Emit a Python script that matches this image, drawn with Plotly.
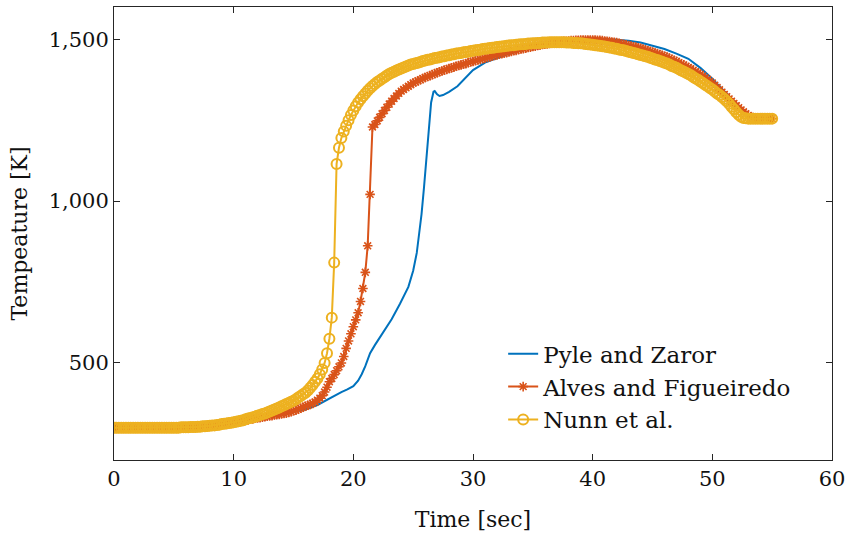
import numpy as np
import plotly.graph_objects as go

# sampling grid of the two marker series (0.2 s step, 0..55 s)
time_grid = np.round(np.arange(0, 55.0001, 0.2), 1)

nunn_T = [
    300, 300, 300, 300, 300, 300, 300, 300, 300, 300,
    300, 300, 300, 300, 300, 300, 300, 300, 300, 300,
    300, 300, 300, 300, 300,
    300, 300, 300, 301, 301,
    301, 301, 302, 302, 302,
    303, 303, 304, 304, 305,
    306, 307, 307, 308, 309,
    311, 312, 313, 314, 315,
    317, 318, 320, 321, 323,
    326, 328, 330, 332, 334,
    337, 339, 342, 344, 347,
    350, 353, 356, 359, 362,
    366, 369, 373, 376, 380,
    383, 388, 393, 398, 403,
    408, 415, 423, 432, 442,
    452, 465, 480, 500, 530,
    575, 640, 810, 1115, 1165,
    1195, 1215, 1233, 1250, 1266,
    1280, 1293, 1305, 1315, 1324,
    1333, 1341, 1349, 1356, 1362,
    1368, 1373, 1378, 1383, 1388,
    1393, 1397, 1400, 1404, 1407,
    1410, 1413, 1416, 1419, 1422,
    1424, 1426, 1428, 1430, 1433,
    1435, 1437, 1438, 1440, 1442,
    1443, 1445, 1447, 1448, 1450,
    1451, 1453, 1454, 1456, 1457,
    1458, 1460, 1461, 1462, 1464,
    1465, 1466, 1467, 1468, 1470,
    1471, 1472, 1473, 1474, 1475,
    1476, 1477, 1478, 1479, 1480,
    1481, 1482, 1482, 1483, 1484,
    1485, 1485, 1486, 1487, 1487,
    1488, 1488, 1489, 1489, 1490,
    1490, 1490, 1491, 1491, 1491,
    1491, 1491, 1491, 1491, 1490,
    1490, 1490, 1489, 1489, 1488,
    1488, 1487, 1486, 1485, 1484,
    1483, 1482, 1481, 1480, 1479,
    1478, 1476, 1475, 1474, 1472,
    1471, 1469, 1467, 1466, 1464,
    1462, 1460, 1458, 1456, 1454,
    1452, 1450, 1448, 1446, 1443,
    1441, 1438, 1436, 1433, 1431,
    1428, 1425, 1422, 1418, 1415,
    1412, 1408, 1404, 1401, 1397,
    1393, 1389, 1384, 1379, 1375,
    1370, 1365, 1360, 1355, 1350,
    1345, 1339, 1333, 1328, 1322,
    1316, 1309, 1301, 1292, 1284,
    1275, 1267, 1261, 1257, 1256,
    1255, 1255, 1255, 1255, 1255,
    1255, 1255, 1255, 1255, 1255,
    1255,
]

alves_T = [
    300, 300, 300, 300, 300, 300, 300, 300, 300, 300,
    300, 300, 300, 300, 300, 300, 300, 300, 300, 300,
    300, 300, 300, 300, 300,
    300, 300, 300, 301, 301,
    301, 301, 302, 302, 302,
    303, 303, 304, 304, 305,
    306, 307, 307, 308, 309,
    310, 311, 312, 313, 314,
    316, 317, 319, 320, 322,
    323, 324, 326, 327, 329,
    330, 331, 332, 334, 335,
    336, 337, 339, 340, 341,
    342, 344, 345, 347, 349,
    352, 354, 357, 360, 363,
    366, 369, 372, 375, 379,
    385, 391, 399, 410, 425,
    442, 452, 464, 476, 488,
    500, 520, 545, 568, 590,
    612, 633, 655, 690, 730,
    780, 862, 1021, 1229, 1237,
    1248, 1259, 1270, 1280, 1290,
    1300, 1309, 1317, 1325, 1333,
    1340, 1345, 1350, 1355, 1360,
    1365, 1368, 1372, 1375, 1379,
    1382, 1385, 1388, 1391, 1394,
    1397, 1400, 1402, 1405, 1407,
    1410, 1412, 1414, 1417, 1419,
    1421, 1423, 1425, 1428, 1430,
    1432, 1434, 1436, 1438, 1440,
    1442, 1444, 1446, 1448, 1450,
    1452, 1454, 1456, 1457, 1459,
    1461, 1463, 1465, 1466, 1468,
    1470, 1471, 1473, 1475, 1476,
    1478, 1479, 1481, 1482, 1484,
    1485, 1486, 1487, 1489, 1490,
    1491, 1492, 1493, 1494, 1494,
    1495, 1496, 1496, 1497, 1497,
    1498, 1498, 1498, 1498, 1498,
    1498, 1498, 1497, 1497, 1496,
    1495, 1494, 1493, 1492, 1491,
    1490, 1488, 1486, 1485, 1483,
    1481, 1479, 1477, 1476, 1474,
    1472, 1470, 1468, 1465, 1463,
    1461, 1458, 1456, 1453, 1451,
    1448, 1445, 1442, 1438, 1435,
    1432, 1428, 1424, 1421, 1417,
    1413, 1409, 1405, 1400, 1396,
    1392, 1387, 1381, 1376, 1370,
    1365, 1358, 1351, 1344, 1337,
    1330, 1323, 1316, 1309, 1302,
    1295, 1289, 1282, 1276, 1270,
    1265, 1261, 1258, 1256, 1255,
    1255, 1255, 1255, 1255, 1255,
    1255,
]

pyle_t = [0, 2, 4, 5, 6, 7, 8, 9, 10, 11, 12, 13, 14, 15, 16, 17, 18, 18.5, 19,
          19.5, 20, 20.4, 20.7, 21, 21.4, 21.8, 22.5, 23.2, 23.9, 24.6, 25.0,
          25.3, 25.5, 25.7, 25.9, 26.1, 26.3, 26.5, 26.7, 26.8, 27.0, 27.2,
          27.5, 28, 28.7, 29.5, 30, 31, 32, 33, 34, 35, 36, 37, 38, 39, 40,
          41, 42, 43, 44, 45, 46, 47, 48, 49, 50, 51, 52, 53, 53.5, 54, 55]
pyle_T = [300, 300, 300, 300, 301, 303, 306, 310, 316, 323, 330, 335, 341, 348,
          356, 370, 390, 401, 410, 418, 428, 445, 465, 490, 530, 555, 595,
          635, 683, 735, 785, 840, 900, 960, 1040, 1125, 1225, 1305, 1338,
          1340, 1330, 1325, 1328, 1338, 1355, 1385, 1405, 1428, 1442, 1455,
          1466, 1476, 1484, 1490, 1495, 1498, 1500, 1501, 1499, 1496, 1490,
          1481, 1470, 1456, 1440, 1412, 1378, 1340, 1300, 1266, 1256, 1255,
          1255]

series_names = ["Pyle and Zaror", "Alves and Figueiredo", "Nunn et al."]
x_ticks = [0, 10, 20, 30, 40, 50, 60]
y_ticks = [500, 1000, 1500]

BLUE = "#0072BD"
RED = "#D95319"
YELLOW = "#EDB120"
FONT = "DejaVu Serif"
TXT = "#111111"

fig = go.Figure()
fig.add_trace(go.Scatter(x=pyle_t, y=pyle_T, mode="lines", name=series_names[0],
                         line=dict(color=BLUE, width=2)))
fig.add_trace(go.Scatter(x=time_grid, y=alves_T, mode="lines+markers", name=series_names[1],
                         line=dict(color=RED, width=2),
                         marker=dict(symbol="asterisk-open", size=8, color=RED,
                                     line=dict(color=RED, width=1.6))))
fig.add_trace(go.Scatter(x=time_grid, y=nunn_T, mode="lines+markers", name=series_names[2],
                         line=dict(color=YELLOW, width=2),
                         marker=dict(symbol="circle-open", size=10, color=YELLOW,
                                     line=dict(color=YELLOW, width=2))))

axis_common = dict(showgrid=False, zeroline=False, showline=True, linecolor="#262626",
                   linewidth=1, mirror="ticks", ticks="inside", ticklen=6,
                   tickcolor="#262626", tickwidth=1,
                   tickfont=dict(family=FONT, size=21, color=TXT))

fig.update_xaxes(range=[0, 60], tickvals=x_ticks, **axis_common,
                 title=dict(text="Time [sec]", font=dict(family=FONT, size=22, color=TXT),
                            standoff=21))
fig.update_yaxes(range=[200, 1600], tickvals=y_ticks, tickformat=",d", **axis_common,
                 title=dict(text="Tempeature [K]", font=dict(family=FONT, size=22, color=TXT),
                            standoff=14))

fig.update_layout(
    width=851, height=537,
    margin=dict(l=114, r=16, t=6, b=77),
    plot_bgcolor="white", paper_bgcolor="white",
    font=dict(family=FONT, size=22, color=TXT),
    legend=dict(x=0.542, y=0.282, xanchor="left", yanchor="top",
                bgcolor="rgba(255,255,255,0)", borderwidth=0,
                font=dict(family=FONT, size=23, color=TXT),
                tracegroupgap=0, itemwidth=30),
    showlegend=True,
)

fig.write_html("out.html")
